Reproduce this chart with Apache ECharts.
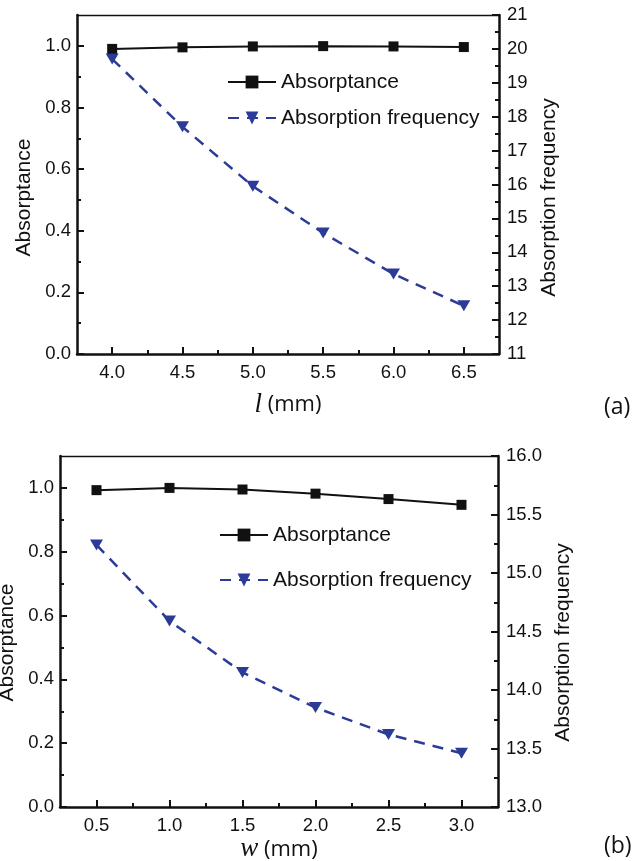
<!DOCTYPE html>
<html>
<head>
<meta charset="utf-8">
<script src="https://cdn.jsdelivr.net/npm/echarts@6/dist/echarts.min.js"></script>
<style>
html,body{margin:0;padding:0;background:#fff;}
#c{width:639px;height:861px;}
</style>
</head>
<body>
<div id="c"></div>
<script>
// ---------- data ----------
const lValues = [4.0, 4.5, 5.0, 5.5, 6.0, 6.5];
const absorptanceA = [0.99, 0.995, 0.998, 0.999, 0.998, 0.996];
const frequencyA = [19.7, 17.7, 15.95, 14.57, 13.36, 12.42];

const wValues = [0.5, 1.0, 1.5, 2.0, 2.5, 3.0];
const absorptanceB = [0.993, 1.0, 0.995, 0.982, 0.965, 0.947];
const frequencyB = [15.24, 14.59, 14.15, 13.85, 13.62, 13.46];

// tick labels
const xTicksA = [4.0, 4.5, 5.0, 5.5, 6.0, 6.5];
const xMinorA = [4.25, 4.75, 5.25, 5.75, 6.25];
const xTicksB = [0.5, 1.0, 1.5, 2.0, 2.5, 3.0];
const xMinorB = [0.75, 1.25, 1.75, 2.25, 2.75];
const yLeftTicks = [0.0, 0.2, 0.4, 0.6, 0.8, 1.0];
const yLeftMinor = [0.1, 0.3, 0.5, 0.7, 0.9];
const yRightTicksA = [11, 12, 13, 14, 15, 16, 17, 18, 19, 20, 21];
const yRightMinorA = [11.5, 12.5, 13.5, 14.5, 15.5, 16.5, 17.5, 18.5, 19.5, 20.5];
const yRightTicksB = [13.0, 13.5, 14.0, 14.5, 15.0, 15.5, 16.0];
const yRightMinorB = [13.25, 13.75, 14.25, 14.75, 15.25, 15.75];

const seriesNames = ['Absorptance', 'Absorption frequency'];

// ---------- styles ----------
const INK = '#111';
const BLUE = '#2b3b97';
const SANS = 'Liberation Sans';

const grids = [];
const xAxes = [];
const yAxes = [];
const series = [];
const legends = [];

function addPanel(cfg) {
  const gi = grids.length;
  grids.push({left: cfg.left, top: cfg.top, width: cfg.width, height: cfg.height, outerBoundsMode: 'none', containLabel: false});
  const lineMain = {show: true, lineStyle: {color: INK, width: 2.5}};
  // x main
  const xi = xAxes.length;
  xAxes.push({
    gridIndex: gi, type: 'value', position: 'bottom', min: cfg.xMin, max: cfg.xMax,
    axisLine: lineMain, splitLine: {show: false},
    axisTick: {show: true, inside: true, length: 7, lineStyle: {color: INK, width: 2}, customValues: cfg.xTicks},
    axisLabel: {show: true, customValues: cfg.xTicks, formatter: v => v.toFixed(1), fontFamily: SANS, fontSize: 18.5, color: INK, margin: 9},
    name: cfg.xName, nameLocation: 'middle', nameGap: cfg.xNameGap,
    nameTextStyle: {fontFamily: 'Open Sans', fontSize: 22, color: INK,
      rich: {i: {fontFamily: 'Liberation Serif', fontStyle: 'italic', fontSize: 27, color: INK}}}
  });
  // x minor
  xAxes.push({
    gridIndex: gi, type: 'value', position: 'bottom', min: cfg.xMin, max: cfg.xMax,
    axisLine: {show: false}, splitLine: {show: false}, axisLabel: {show: false},
    axisTick: {show: true, inside: true, length: 4, lineStyle: {color: INK, width: 2}, customValues: cfg.xMinor}
  });
  // top frame
  xAxes.push({
    gridIndex: gi, type: 'value', position: 'top', min: cfg.xMin, max: cfg.xMax,
    axisLine: {show: true, lineStyle: {color: INK, width: 1.3}}, splitLine: {show: false},
    axisLabel: {show: false}, axisTick: {show: false}
  });
  // y left main
  const yl = yAxes.length;
  yAxes.push({
    gridIndex: gi, type: 'value', position: 'left', min: 0, max: 1.1,
    axisLine: lineMain, splitLine: {show: false},
    axisTick: {show: true, inside: true, length: 7, lineStyle: {color: INK, width: 2}, customValues: yLeftTicks},
    axisLabel: {show: true, customValues: yLeftTicks, formatter: v => v.toFixed(1), fontFamily: SANS, fontSize: 18.5, color: INK, margin: 6},
    name: 'Absorptance', nameLocation: 'middle', nameRotate: 90, nameGap: cfg.yLeftGap,
    nameTextStyle: {fontFamily: SANS, fontSize: 21, color: INK, padding: [0, cfg.nameShift, 0, 0]}
  });
  yAxes.push({
    gridIndex: gi, type: 'value', position: 'left', min: 0, max: 1.1,
    axisLine: {show: false}, splitLine: {show: false}, axisLabel: {show: false},
    axisTick: {show: true, inside: true, length: 4, lineStyle: {color: INK, width: 2}, customValues: yLeftMinor}
  });
  // y right main
  const yr = yAxes.length;
  yAxes.push({
    gridIndex: gi, type: 'value', position: 'right', min: cfg.yrMin, max: cfg.yrMax,
    axisLine: lineMain, splitLine: {show: false},
    axisTick: {show: true, inside: true, length: 7, lineStyle: {color: INK, width: 2}, customValues: cfg.yrTicks},
    axisLabel: {show: true, customValues: cfg.yrTicks, formatter: v => v.toFixed(cfg.yrDigits), fontFamily: SANS, fontSize: 18.5, color: INK, margin: 8},
    name: 'Absorption frequency', nameLocation: 'middle', nameRotate: 90, nameGap: cfg.yRightGap,
    nameTextStyle: {fontFamily: SANS, fontSize: 21, color: INK, padding: [0, cfg.nameShift, 0, 0]}
  });
  yAxes.push({
    gridIndex: gi, type: 'value', position: 'right', min: cfg.yrMin, max: cfg.yrMax,
    axisLine: {show: false}, splitLine: {show: false}, axisLabel: {show: false},
    axisTick: {show: true, inside: true, length: 4, lineStyle: {color: INK, width: 2}, customValues: cfg.yrMinor}
  });

  series.push({
    name: seriesNames[0], type: 'line', xAxisIndex: xi, yAxisIndex: yl,
    data: cfg.x.map((v, i) => [v, cfg.abs[i]]),
    symbol: 'rect', symbolSize: 10, color: INK,
    lineStyle: {color: INK, width: 2}, itemStyle: {color: INK}, z: 3
  });
  series.push({
    name: seriesNames[1], type: 'line', xAxisIndex: xi, yAxisIndex: yr,
    data: cfg.x.map((v, i) => [v, cfg.freq[i]]),
    symbol: 'triangle', symbolRotate: 180, symbolSize: [13, 11], color: BLUE,
    lineStyle: {color: BLUE, width: 2.5, type: [11, 8]}, itemStyle: {color: BLUE}, z: 2
  });
  legends.push({
    data: seriesNames, orient: 'vertical', left: cfg.legLeft, top: cfg.legTop, padding: 0,
    itemWidth: 48, itemHeight: 16, itemGap: cfg.legGap, selectedMode: false,
    textStyle: {fontFamily: SANS, fontSize: 21, color: INK, lineHeight: 24}
  });
}

addPanel({
  left: 77, top: 15, width: 422, height: 339,
  xMin: 3.75, xMax: 6.75, xTicks: xTicksA, xMinor: xMinorA,
  xName: '{i|l} (mm)', xNameGap: 37,
  yrMin: 11, yrMax: 21, yrTicks: yRightTicksA, yrMinor: yRightMinorA, yrDigits: 0,
  yLeftGap: 42, yRightGap: 37, nameShift: 26,
  x: lValues, abs: absorptanceA, freq: frequencyA,
  legLeft: 227, legTop: 70, legGap: 12
});
addPanel({
  left: 60, top: 456, width: 438, height: 351,
  xMin: 0.25, xMax: 3.25, xTicks: xTicksB, xMinor: xMinorB,
  xName: '{i|w} (mm)', xNameGap: 28,
  yrMin: 13, yrMax: 16, yrTicks: yRightTicksB, yrMinor: yRightMinorB, yrDigits: 1,
  yLeftGap: 40, yRightGap: 53, nameShift: 22,
  x: wValues, abs: absorptanceB, freq: frequencyB,
  legLeft: 219, legTop: 523, legGap: 21
});

const chart = echarts.init(document.getElementById('c'), null, {renderer: 'canvas'});
chart.setOption({
  backgroundColor: '#ffffff',
  animation: false,
  grid: grids,
  xAxis: xAxes,
  yAxis: yAxes,
  legend: legends,
  series: series,
  graphic: [
    {type: 'text', left: 604, top: 396, style: {text: '(a)', fontFamily: 'Open Sans', fontSize: 23, fill: INK}},
    {type: 'text', left: 604, top: 835, style: {text: '(b)', fontFamily: 'Open Sans', fontSize: 23, fill: INK}}
  ]
});
</script>
</body>
</html>
